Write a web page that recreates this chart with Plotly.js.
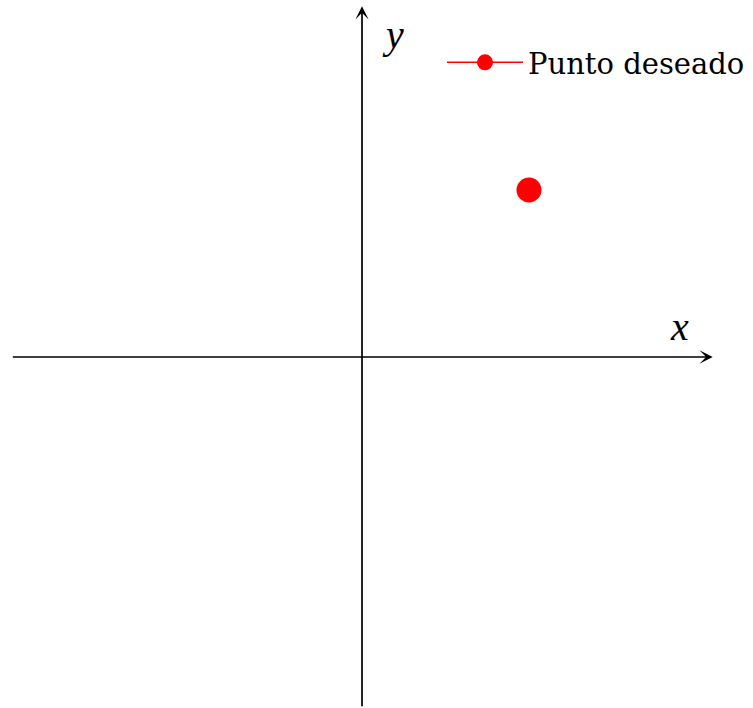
<!DOCTYPE html>
<html>
<head>
<meta charset="utf-8">
<script src="https://cdn.plot.ly/plotly-3.0.1.min.js"></script>
<style>
  html, body { margin: 0; padding: 0; background: #fff; }
  #chart { width: 753px; height: 708px; }
</style>
</head>
<body>
<div id="chart"></div>
<script>
// Desired point in the plane
const pointX = [1];
const pointY = [1];
const seriesName = 'Punto deseado';

// Extent of the drawn coordinate axes
const axisMin = -2.1;
const axisMax = 2.1;
const axisLabels = ['x', 'y'];

const serif = '"Liberation Serif", "DejaVu Serif", serif';
const legendSerif = '"DejaVu Serif", "Liberation Serif", serif';

const trace = {
  x: pointX,
  y: pointY,
  name: seriesName,
  type: 'scatter',
  mode: 'lines+markers',
  line: { color: '#ff0000', width: 1.5 },
  marker: { color: '#ff0000', size: 25 },
  showlegend: true,
  hoverinfo: 'skip'
};

const arrowStyle = {
  showarrow: true,
  arrowhead: 3,
  arrowsize: 1.3,
  arrowwidth: 1.7,
  arrowcolor: '#000',
  standoff: 0,
  startstandoff: 0,
  text: '',
  axref: 'x',
  ayref: 'y',
  xref: 'x',
  yref: 'y'
};

const annotations = [
  Object.assign({}, arrowStyle, { x: axisMax, y: 0, ax: axisMin, ay: 0 }),
  Object.assign({}, arrowStyle, { x: 0, y: axisMax, ax: 0, ay: axisMin }),
  {
    x: 1.9, y: 0.18, xref: 'x', yref: 'y', showarrow: false,
    text: '<i>' + axisLabels[0] + '</i>',
    font: { family: serif, size: 40, color: '#000' }
  },
  {
    x: 0.186, y: 1.93, xref: 'x', yref: 'y', showarrow: false,
    text: '<i>' + axisLabels[1] + '</i>',
    font: { family: serif, size: 40, color: '#000' }
  }
];

const layout = {
  width: 753,
  height: 708,
  margin: { l: 0, r: 0, t: 0, b: 0, pad: 0 },
  paper_bgcolor: '#fff',
  plot_bgcolor: '#fff',
  xaxis: {
    range: [-362 / 167, 391 / 167],
    visible: false,
    fixedrange: true
  },
  yaxis: {
    range: [-351 / 167, 357 / 167],
    visible: false,
    fixedrange: true
  },
  showlegend: true,
  legend: {
    x: 442 / 753,
    y: 1 - 62.5 / 708,
    xanchor: 'left',
    yanchor: 'middle',
    bgcolor: 'rgba(0,0,0,0)',
    borderwidth: 0,
    itemwidth: 76,
    font: { family: legendSerif, size: 29, color: '#000' }
  },
  annotations: annotations
};

Plotly.newPlot('chart', [trace], layout, { staticPlot: true, displayModeBar: false });
</script>
</body>
</html>
